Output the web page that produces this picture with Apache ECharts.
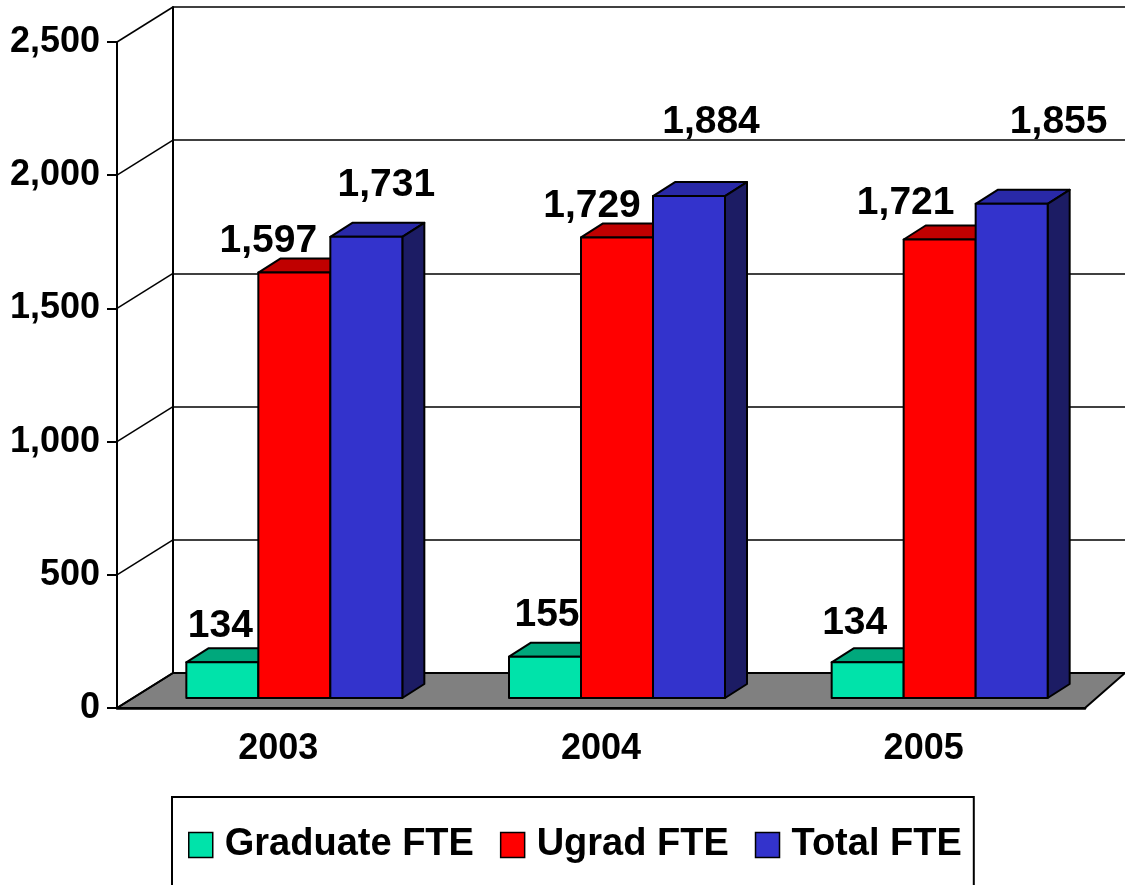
<!DOCTYPE html>
<html>
<head>
<meta charset="utf-8">
<script src="https://cdn.jsdelivr.net/npm/echarts@6/dist/echarts.min.js"></script>
<style>
  html, body { margin: 0; padding: 0; background: #fff; }
  #chart { width: 1125px; height: 885px; }
</style>
</head>
<body>
<div id="chart"></div>
<script>
const years = ['2003', '2004', '2005'];
const graduateFte = [134, 155, 134];
const ugradFte = [1597, 1729, 1721];
const totalFte = [1731, 1884, 1855];
const yTicks = [0, 500, 1000, 1500, 2000, 2500];

// label nudges (px) relative to top-front centre of each bar, like the old 3D chart placed them
const labelNudge = [
  [[-2, -36], [2, -41], [-13, -39]],
  [[-26, -31], [-25, -31], [-34, -36]],
  [[20, -52], [22, -74], [47, -82]]
];

const FONT = "'Liberation Sans', Arial, sans-serif";
const BAR_W = 72;
const FACE = [16, -10];   // bar front face offset from the front plane
const DEPTH = [22, -14];  // bar depth
const WALL = [56, -35];   // back wall offset

const shades = [
  { front: '#00E3AA', top: '#00A87C', side: '#007458' },
  { front: '#FF0000', top: '#C00000', side: '#7A0000' },
  { front: '#3333CC', top: '#2929A8', side: '#1C1C64' }
];

function fmt(v) { return v.toLocaleString('en-US'); }

function barRenderer(sIdx) {
  return function (params, api) {
    const cat = api.value(0);
    const v = api.value(1);
    const base = api.coord([cat, 0]);
    const top = api.coord([cat, v]);
    const cx = base[0] + FACE[0] + (sIdx - 1) * BAR_W;
    const x0 = cx - BAR_W / 2, x1 = cx + BAR_W / 2;
    const yb = base[1] + FACE[1], yt = top[1] + FACE[1];
    const c = shades[sIdx];
    const edge = { stroke: '#000', lineWidth: 2, lineJoin: 'round' };
    const nudge = labelNudge[sIdx][params.dataIndex];
    return {
      type: 'group',
      children: [
        { type: 'polygon', shape: { points: [[x0, yt], [x0 + DEPTH[0], yt + DEPTH[1]], [x1 + DEPTH[0], yt + DEPTH[1]], [x1, yt]] },
          style: Object.assign({ fill: c.top }, edge) },
        { type: 'polygon', shape: { points: [[x1, yt], [x1 + DEPTH[0], yt + DEPTH[1]], [x1 + DEPTH[0], yb + DEPTH[1]], [x1, yb]] },
          style: Object.assign({ fill: c.side }, edge) },
        { type: 'rect', shape: { x: x0, y: yt, width: BAR_W, height: yb - yt },
          style: Object.assign({ fill: c.front }, edge) },
        { type: 'text', x: cx + nudge[0], y: yt + nudge[1],
          style: { text: fmt(v), fill: '#000', font: 'bold 39px ' + FONT, align: 'center', verticalAlign: 'middle' } }
      ]
    };
  };
}

function floorRenderer(params) {
  const cs = params.coordSys;
  const yb = cs.y + cs.height;
  return {
    type: 'polygon',
    shape: { points: [[cs.x, yb], [cs.x + cs.width, yb], [cs.x + cs.width + 40, yb + WALL[1]], [cs.x + WALL[0], yb + WALL[1]]] },
    style: { fill: '#808080', stroke: '#000', lineWidth: 2 }
  };
}

function sideWallRenderer(params, api) {
  const p = api.coord([0, api.value(1)]);
  const x = params.coordSys.x;
  return {
    type: 'line',
    shape: { x1: x, y1: p[1], x2: x + WALL[0], y2: p[1] + WALL[1] },
    style: { stroke: '#000', lineWidth: 1.5 }
  };
}

const chart = echarts.init(document.getElementById('chart'));
const seriesNames = ['Graduate FTE', 'Ugrad FTE', 'Total FTE'];
const seriesData = [graduateFte, ugradFte, totalFte];

chart.setOption({
  animation: false,
  grid: [
    { left: 117, right: 40, top: 42, bottom: 177 },
    { left: 173, right: 0, top: 7, bottom: 212 }
  ],
  xAxis: [
    {
      type: 'category', data: years, gridIndex: 0,
      axisLine: { lineStyle: { color: '#000', width: 2.5 } },
      axisTick: { length: 9, lineStyle: { color: '#000', width: 2 } },
      axisLabel: { color: '#000', fontSize: 36, fontWeight: 'bold', fontFamily: FONT, margin: 23 }
    },
    { type: 'category', data: years, gridIndex: 1, show: false }
  ],
  yAxis: [
    {
      type: 'value', min: 0, max: 2500, interval: 500, gridIndex: 0,
      axisLine: { show: true, lineStyle: { color: '#000', width: 2 } },
      axisTick: { show: true, length: 10, lineStyle: { color: '#000', width: 2 } },
      splitLine: { show: false },
      axisLabel: { color: '#000', fontSize: 36, fontWeight: 'bold', fontFamily: FONT, margin: 17,
        padding: [9, 0, 0, 0], formatter: v => fmt(v) }
    },
    {
      type: 'value', min: 0, max: 2500, interval: 500, gridIndex: 1,
      axisLine: { show: true, lineStyle: { color: '#000', width: 2 } },
      axisTick: { show: false }, axisLabel: { show: false },
      splitLine: { show: true, lineStyle: { color: '#000', width: 1.5 } }
    }
  ],
  legend: {
    data: seriesNames,
    left: 172, top: 797,
    padding: [28, 12, 28, 16],
    itemGap: 26, itemWidth: 24, itemHeight: 25,
    icon: 'rect',
    borderColor: '#000', borderWidth: 2,
    itemStyle: { borderColor: '#000', borderWidth: 1.5 },
    textStyle: { color: '#000', fontSize: 38, fontWeight: 'bold', fontFamily: FONT, lineHeight: 40, padding: [0, 0, 0, 7] }
  },
  series: [
    { type: 'custom', name: 'floor', data: [[0, 0]], renderItem: floorRenderer, z: 1, silent: true },
    { type: 'custom', name: 'walls', data: yTicks.map(v => [0, v]), renderItem: sideWallRenderer, z: 1, silent: true }
  ].concat(seriesNames.map((name, s) => ({
    type: 'custom',
    name: name,
    z: 3 + s,
    itemStyle: { color: shades[s].front },
    encode: { x: 0, y: 1 },
    data: seriesData[s].map((v, i) => [i, v]),
    renderItem: barRenderer(s)
  })))
});
</script>
</body>
</html>
